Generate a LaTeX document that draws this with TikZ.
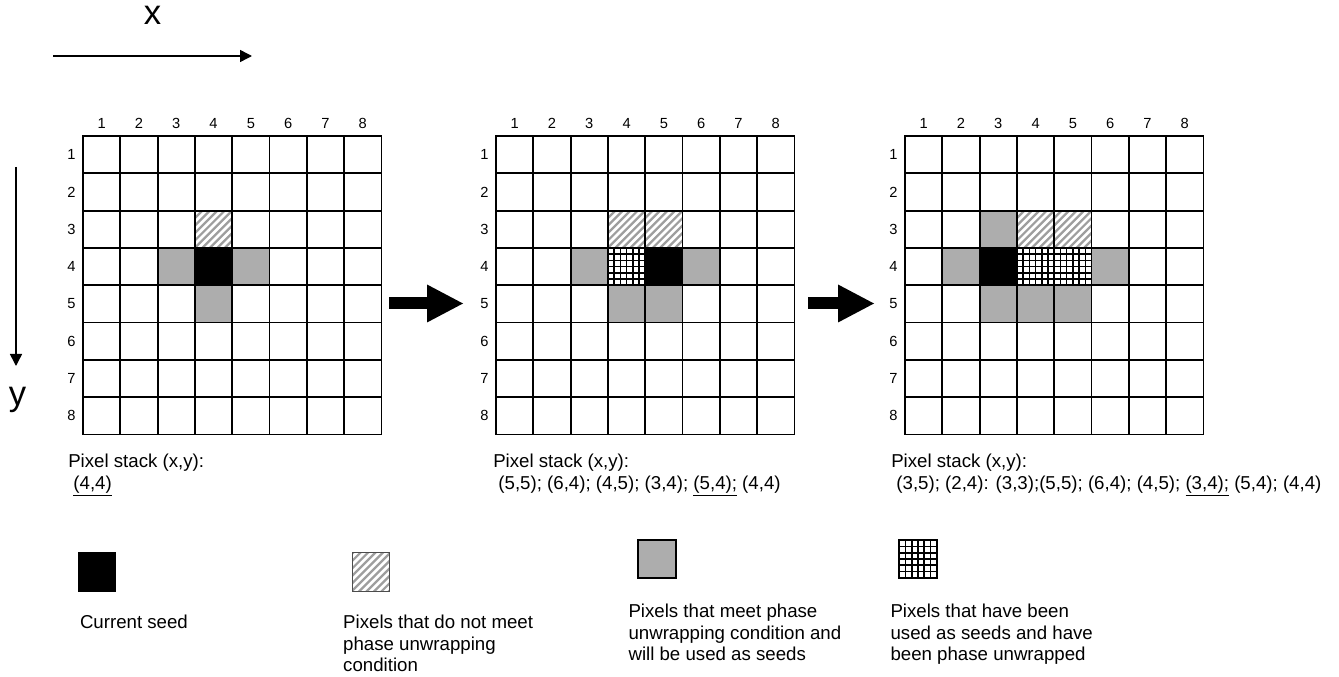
\documentclass[tikz,border=0pt]{standalone}
\usepackage{fontspec}
\setmainfont{Liberation Sans}
\usetikzlibrary{arrows.meta, positioning}

% one cell of a pixel grid: style, column, row
\newcommand\pcell[3]{\path[#1] (#2-1,#3-1) rectangle (#2,#3);}

% 8x8 grid with its indices, #1 = name prefix
\newcommand\pixgrid[1]{%
  \foreach \i in {1,...,8} {
    \node[idx] (#1c\i) at (\i-0.5,-0.33) {\i};
    \node[idx] (#1r\i) at (-0.31,\i-0.5) {\i};
  }
  \foreach \i in {0,...,8} {
    \draw[gridline] (\i,0) -- (\i,8);
    \draw[gridline] (0,\i) -- (8,\i);
  }}

\tikzset{
  gridline/.style={line width=1.4pt, line cap=rect},
  seed/.style={fill=black},
  seedable/.style={fill=black!32},
  blocked/.style={fill=white, path picture={
      \foreach \k in {-7,...,7}
        \draw[black!38, line width=1.7pt] ([xshift=\k*5.6pt]path picture bounding box.center) ++(-30pt,-30pt) -- ++(60pt,60pt);}},
  unwrapped/.style={fill=white, path picture={
      \foreach \k in {-2,...,2} {
        \draw[line width=1.2pt] ([xshift=\k*4.66pt]path picture bounding box.center) ++(0pt,-20pt) -- ++(0pt,40pt);
        \draw[line width=1.2pt] ([yshift=\k*4.66pt]path picture bounding box.center) ++(-20pt,0pt) -- ++(40pt,0pt);}}},
  idx/.style={font=\fontsize{11}{13}\selectfont, inner sep=0pt},
  stack/.style={font=\fontsize{14}{16.2}\selectfont, align=left, anchor=north west, inner sep=0pt},
  keytext/.style={font=\fontsize{14}{16.2}\selectfont, align=left, inner sep=0pt},
  axis/.style={line width=1.1pt, -{Triangle[length=9pt,width=9pt]}},
  axislabel/.style={font=\fontsize{26}{30}\selectfont, inner sep=0pt},
  bigarrow/.style={line width=9pt, -{Triangle[length=27pt,width=28.5pt,line width=0pt]}}
}

\begin{document}
\begin{tikzpicture}[x=0.75pt, y=-0.75pt]
  \useasboundingbox (0,0) rectangle (1339,677);

  % axes
  \coordinate (xfrom) at (53,56);
  \coordinate (xto) at (252,56);
  \coordinate (yfrom) at (16,167);
  \coordinate (yto) at (16,366);
  \draw[axis] (xfrom) -- (xto);
  \draw[axis] (yfrom) -- (yto);
  \node[axislabel, anchor=base] (xlabel) at (152.5,25) {x};
  \node[axislabel, anchor=base] (ylabel) at (17.5,405) {y};

  % first step
  \begin{scope}[shift={(83,136)}, x=27.98pt, y=-27.98pt]
    \pcell{seed}{4}{4}
    \pcell{seedable}{3}{4}
    \pcell{seedable}{5}{4}
    \pcell{seedable}{4}{5}
    \pcell{blocked}{4}{3}
    \pixgrid{ga}
  \end{scope}
  \node[stack] (stacka) at (68,454) {Pixel stack (x,y):\\\ \underline{(4,4)}};

  % second step
  \begin{scope}[shift={(496,136)}, x=27.98pt, y=-27.98pt]
    \pcell{seed}{5}{4}
    \pcell{unwrapped}{4}{4}
    \pcell{blocked}{4}{3}
    \pcell{blocked}{5}{3}
    \pcell{seedable}{3}{4}
    \pcell{seedable}{6}{4}
    \pcell{seedable}{4}{5}
    \pcell{seedable}{5}{5}
    \pixgrid{gb}
  \end{scope}
  \node[stack] (stackb) at (493,454) {Pixel stack (x,y):\\\ (5,5); (6,4); (4,5); (3,4); \underline{(5,4);} (4,4)};

  % third step
  \begin{scope}[shift={(905,136)}, x=27.98pt, y=-27.98pt]
    \pcell{seed}{3}{4}
    \pcell{unwrapped}{4}{4}
    \pcell{unwrapped}{5}{4}
    \pcell{blocked}{4}{3}
    \pcell{blocked}{5}{3}
    \pcell{seedable}{3}{3}
    \pcell{seedable}{2}{4}
    \pcell{seedable}{6}{4}
    \pcell{seedable}{3}{5}
    \pcell{seedable}{4}{5}
    \pcell{seedable}{5}{5}
    \pixgrid{gc}
  \end{scope}
  \node[stack] (stackc) at (891,454) {Pixel stack (x,y):\\\ (3,5); (2,4): (3,3);(5,5); (6,4); (4,5); \underline{(3,4);} (5,4); (4,4)};

  % arrows between the steps
  \coordinate (stepafrom) at (389,303.5);
  \coordinate (stepato) at (463,303.5);
  \coordinate (stepbfrom) at (808,303.5);
  \coordinate (stepbto) at (874,303.5);
  \draw[bigarrow] (stepafrom) -- (stepato);
  \draw[bigarrow] (stepbfrom) -- (stepbto);

  % legend
  \node[seed, minimum width=28.5pt, minimum height=30pt] (keyseed) at (97,572) {};
  \node[blocked, draw=black!70, line width=1.1pt, minimum width=27.5pt, minimum height=29pt] (keyblocked) at (371,572) {};
  \node[seedable, draw, line width=1.1pt, minimum size=28.5pt] (keyseedable) at (657,559) {};
  \node[unwrapped, draw, line width=1.1pt, minimum size=28.5pt] (keyunwrapped) at (918,559) {};

  \node[keytext, below=17pt of keyseed.south west, anchor=north west, xshift=1.5pt] (textseed) {Current seed};
  \node[keytext, below=17pt of keyblocked.south west, anchor=north west, xshift=-6.75pt] (textblocked) {Pixels that do not meet\\phase unwrapping\\condition};
  \node[keytext, below=18.75pt of keyseedable.south west, anchor=north west, xshift=-6.75pt] (textseedable) {Pixels that meet phase\\unwrapping condition and\\will be used as seeds};
  \node[keytext, below=18.75pt of keyunwrapped.south west, anchor=north west, xshift=-6pt] (textunwrapped) {Pixels that have been\\used as seeds and have\\been phase unwrapped};
\end{tikzpicture}
\end{document}
